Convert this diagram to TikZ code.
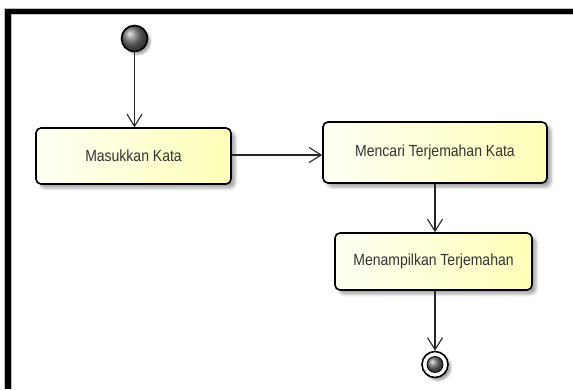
\documentclass[tikz,border=0pt]{standalone}
\usepackage{fontspec}
\setmainfont{Liberation Sans}
\usetikzlibrary{arrows.meta,positioning,shadows.blur,calc}

\newcommand{\actlabel}[1]{\scalebox{1}[1.15]{#1}}

\tikzset{
    activity/.style={draw=black, line width=1.6pt, rounded corners=5pt,
        left color=yellow!4!white, right color=yellow!28!white,
        text=black!80, font=\fontsize{14}{16}\selectfont,
        blur shadow={shadow xshift=4pt, shadow yshift=-4pt, shadow blur radius=3pt, shadow opacity=35}},
    flow/.style={->, line width=1.1pt, draw=black!85}
}

\begin{document}
\begin{tikzpicture}[x=1pt, y=-1pt, >={Straight Barb[length=12pt,width=15pt,line width=1.1pt]}]
    \useasboundingbox (0,0) rectangle (573,389);
    % frame
    \draw[line width=7.5pt, draw=black!25] (7.8,389) -- (7.8,11.3) -- (573,11.3);
    \draw[line width=5.5pt] (7.8,389) -- (7.8,11.3) -- (573,11.3);
    % initial and final nodes
    \node[circle, draw=black, line width=1.6pt, ball color=black!55, minimum size=26pt, inner sep=0pt,
        blur shadow={shadow xshift=3pt, shadow yshift=-3pt, shadow blur radius=2pt, shadow opacity=35}] (start) at (134.5,38.5) {};
    \node[circle, draw=black, line width=1.6pt, fill=white, minimum size=26pt, inner sep=0pt,
        blur shadow={shadow xshift=3pt, shadow yshift=-3pt, shadow blur radius=2pt, shadow opacity=35}] (end) at (435,364.5) {};
    \node[circle, draw=black, line width=0.8pt, ball color=black!55, minimum size=16pt, inner sep=0pt] (endin) at (end.center) {};
    % actions
    \node[activity, minimum width=195pt, minimum height=56pt] (masukkan) at (133.5,156) {\actlabel{Masukkan Kata}};
    \node[activity, minimum width=224pt, minimum height=61pt] (mencari) at (435,152.5) {\actlabel{Mencari Terjemahan Kata}};
    \node[activity, minimum width=197pt, minimum height=57pt] (menampilkan) at (433.5,261.5) {\actlabel{Menampilkan Terjemahan}};
    % transitions
    \draw[flow] (start) -- (start |- masukkan.north);
    \draw[flow] (masukkan.east |- 0,155) -- (mencari.west |- 0,155);
    \draw[flow] (mencari.south) -- (mencari.south |- menampilkan.north);
    \draw[flow] (menampilkan.south -| end) -- (end);
\end{tikzpicture}
\end{document}
